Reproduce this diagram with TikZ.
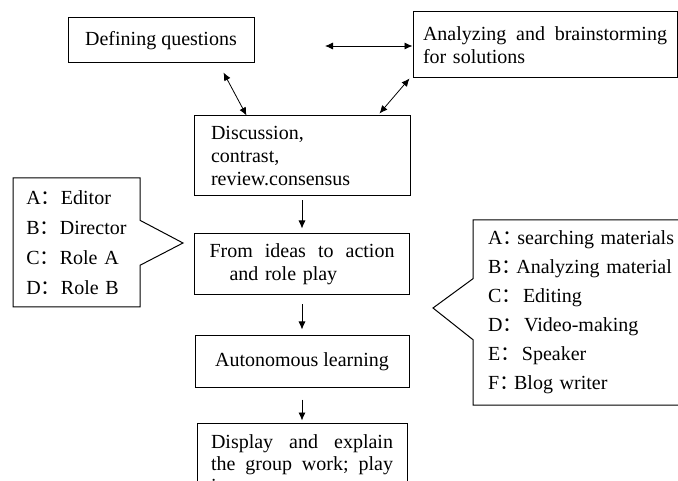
\documentclass[tikz,border=0pt]{standalone}
\usepackage{fontspec}
\setmainfont{Liberation Serif}
\newfontfamily\cjk{Noto Sans CJK SC}
\usetikzlibrary{arrows.meta,positioning,shapes.callouts}

\newcommand{\fc}{{\cjk ：}}
\newcommand{\nfc}{{\cjk ：}\hspace{-5pt}}

\begin{document}
\begin{tikzpicture}[
    x=1pt,y=-1pt,
    box/.style={rectangle,draw,line width=1pt,inner sep=0pt,
                font=\fontsize{20}{23}\selectfont},
    note/.style={rectangle callout,draw,line width=1pt,inner sep=0pt,
                 align=left,font=\fontsize{20}{30}\selectfont},
    arr/.style={-{Latex[length=8pt,width=7pt]},line width=0.8pt},
    dbl/.style={{Latex[length=8pt,width=7pt]}-{Latex[length=8pt,width=7pt]},line width=0.8pt}
  ]
    \useasboundingbox (0,0) rectangle (678,481);
    \clip (0,0) rectangle (678,481);

    % top row
    \node[box,minimum width=186pt,minimum height=45pt] (defq) at (161,40.5) {Defining questions};
    \node[box,minimum width=264pt,minimum height=66pt,text width=244pt,align=left] (anlz) at (545,45)
      {Analyzing\hfill and\hfill brainstorming\\for solutions};

    % middle column
    \node[box,minimum width=216pt,minimum height=80pt,text width=182pt,align=left] (disc) at (302,156)
      {Discussion,\\contrast,\\review.consensus};
    \node[box,below=37pt of disc,minimum width=215pt,minimum height=61pt,text width=185pt,align=left] (idea)
      {From\hfill ideas\hfill to\hfill action\\\hspace*{20pt}and role play};
    \node[box,below=40pt of idea,minimum width=214pt,minimum height=51pt] (auto) {Autonomous learning};
    \node[box,below=35pt of auto,minimum width=210pt,inner ysep=12pt,text width=182pt,align=left,
          font=\fontsize{20}{22}\selectfont] (disp)
      {Display\hfill and\hfill explain\\the\hfill group\hfill work;\hfill play\\i};

    % side notes
    \node[note,minimum width=127pt,minimum height=129pt,text width=100pt,
          callout absolute pointer={(183,243)},callout pointer width=45pt] (roles) at (76.5,242.5)
      {A\fc Editor\\B\fc Director\\C\fc Role A\\D\fc Role B};
    \node[note,minimum width=220pt,minimum height=185pt,text width=190pt,
          font=\fontsize{20}{29}\selectfont,
          callout absolute pointer={(433,308)},callout pointer width=61pt] (tasks) at (583,312.5)
      {A\nfc searching materials\\B\nfc Analyzing material\\C\nfc\ Editing\\D\nfc\ Video-making\\E\nfc\ Speaker\\F\nfc Blog writer};

    % connectors
    \coordinate (h1) at (325,46);
    \draw[dbl] (h1) -- (h1 -| anlz.west);
    \draw[dbl] ([xshift=-31pt,yshift=-9pt]defq.south east) -- ([xshift=53pt]disc.north west);
    \draw[dbl] ([xshift=-3pt]anlz.south west) -- ([xshift=-31pt,yshift=2pt]disc.north east);
    \draw[arr,shorten <=4pt,shorten >=5pt] (disc) -- (idea);
    \draw[arr,shorten <=9pt,shorten >=6pt] (idea) -- (auto);
    \draw[arr,shorten <=12pt,shorten >=2pt] (auto) -- (disp);
\end{tikzpicture}
\end{document}
